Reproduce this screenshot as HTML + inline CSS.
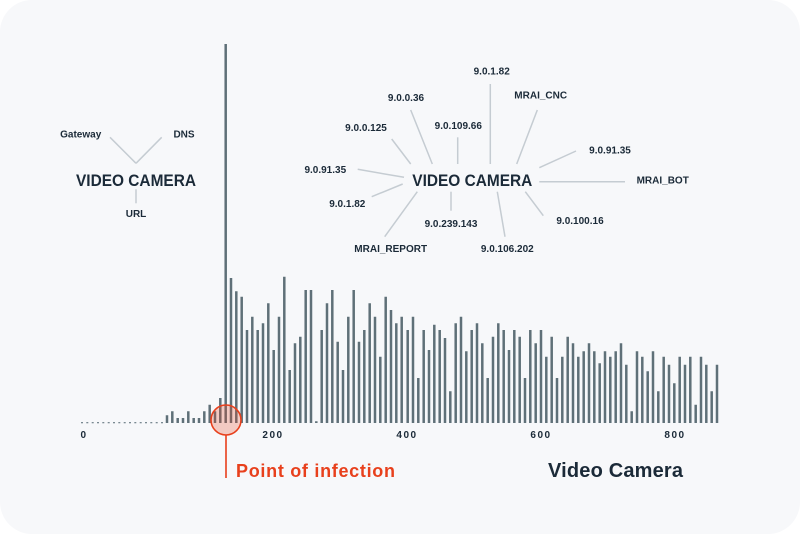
<!DOCTYPE html>
<html><head><meta charset="utf-8"><style>
html,body{margin:0;padding:0;background:#fff;}
svg{display:block;font-family:"Liberation Sans",sans-serif;}
</style></head><body>
<svg width="800" height="534" viewBox="0 0 800 534" xmlns="http://www.w3.org/2000/svg">
<rect x="0" y="0" width="800" height="534" rx="32" fill="#f7f8fa"/>
<g fill="#7a8a92">
<rect x="81" y="422" width="2" height="1.3"/><rect x="86.3" y="422" width="2" height="1.3"/><rect x="91.7" y="422" width="2" height="1.3"/><rect x="97" y="422" width="2" height="1.3"/><rect x="102.3" y="422" width="2" height="1.3"/><rect x="107.7" y="422" width="2" height="1.3"/><rect x="113" y="422" width="2" height="1.3"/><rect x="118.3" y="422" width="2" height="1.3"/><rect x="123.7" y="422" width="2" height="1.3"/><rect x="129" y="422" width="2" height="1.3"/><rect x="134.3" y="422" width="2" height="1.3"/><rect x="139.7" y="422" width="2" height="1.3"/><rect x="145" y="422" width="2" height="1.3"/><rect x="150.3" y="422" width="2" height="1.3"/><rect x="155.7" y="422" width="2" height="1.3"/><rect x="161" y="422" width="2" height="1.3"/>
</g>
<path fill="none" stroke="#5f7078" stroke-width="2.5" d="
M167 415.3V423M172.3 411.3V423M177.7 418V423M183 418V423M188.3 411.3V423M193.7 418V423M199 418V423M204.3 411.3V423M209.7 404.7V423M215 411.3V423M220.3 398V423M225.7 44V423
M231 278V423M236.3 291.3V423M241.7 296.7V423M247 330V423M252.3 316.7V423M257.7 330V423M263 323.3V423M268.3 303.3V423M273.7 350V423M279 316.7V423M284.3 276.7V423M289.7 370V423M295 343.3V423M300.3 336.7V423M305.7 290V423M311 290V423M316.3 421.3V423M321.7 330V423M327 303.3V423M332.3 290V423M337.7 341.7V423M343 370V423M348.3 316.7V423M353.7 290V423M359 341.7V423M364.3 330V423M369.7 303.3V423M375 316.7V423M380.3 356.7V423M385.7 296.7V423M391 310V423M396.3 323.3V423M401.7 316.7V423
M407.7 330V423M413 316.7V423M418.3 378V423M423.7 330V423M429 350V423M434.3 324.7V423M439.7 330V423M445 338V423M450.3 391.3V423M455.7 323.3V423M461 316.7V423M466.3 351.3V423M471.7 330V423M477 323.3V423M482.3 343.3V423M487.7 378V423M493 336.7V423M498.3 323.3V423M503.7 330V423M509 350V423M514.3 330V423M519.7 336.7V423M525 378V423M530.3 330V423M535.7 343.3V423M541 330V423M546.3 356.7V423M551.7 336.7V423M557 378V423M562.3 356.7V423M567.7 336.7V423M573 343.3V423M578.3 356.7V423M583.7 351.3V423M589 343.3V423M594.3 351.3V423M599.7 363.3V423M605 351.3V423M610.3 356.7V423M615.7 351.3V423M621 343.3V423M626.3 364.7V423M631.7 411.3V423M637 351.3V423M642.3 356.7V423M647.7 371.3V423M653 351.3V423M658.3 391.3V423M663.7 356.7V423M669 364.7V423M674.3 383.3V423M679.7 356.7V423M685 364.7V423M690.3 356.7V423M695.7 404.7V423M701 356.7V423M706.3 364.7V423M711.7 391.3V423M717 364.7V423"/>
<circle cx="226" cy="420" r="15" fill="#e8401c" fill-opacity="0.25" stroke="#e8401c" stroke-width="1.6"/>
<line x1="226" y1="435" x2="226" y2="478" stroke="#e8401c" stroke-width="1.6"/>
<text x="236" y="477" font-size="18" font-weight="bold" fill="#e8401c" textLength="159">Point of infection</text>
<text x="548" y="477" font-size="20" font-weight="bold" fill="#1b2a38" textLength="135">Video Camera</text>
<g font-size="10" font-weight="bold" fill="#1b2a38" text-anchor="middle" letter-spacing="1.5">
<text x="84" y="438">0</text><text x="273" y="438">200</text><text x="407" y="438">400</text><text x="541" y="438">600</text><text x="675" y="438">800</text>
</g>
<g stroke="#c5ccd2" stroke-width="1.5">
<line x1="110" y1="137.3" x2="136" y2="163.3"/><line x1="161.7" y1="137.3" x2="136" y2="163.3"/><line x1="136" y1="189.3" x2="136" y2="203.3"/>
<line x1="490.3" y1="84" x2="490.3" y2="164"/>
<line x1="537.3" y1="110" x2="516.7" y2="164"/>
<line x1="410.7" y1="110" x2="432.3" y2="164"/>
<line x1="457.7" y1="137.3" x2="457.7" y2="164"/>
<line x1="391.7" y1="139" x2="410.7" y2="164"/>
<line x1="576" y1="151" x2="539.3" y2="167.7"/>
<line x1="357.7" y1="169.3" x2="404" y2="177.3"/>
<line x1="539.3" y1="181.7" x2="625" y2="181.7"/>
<line x1="371.7" y1="196.7" x2="402.7" y2="184"/>
<line x1="451" y1="191.7" x2="451" y2="210.7"/>
<line x1="525.3" y1="191.7" x2="543.3" y2="215.7"/>
<line x1="417.3" y1="191.7" x2="384.7" y2="236.7"/>
<line x1="497.3" y1="191.7" x2="505" y2="236.7"/>
</g>
<g font-size="10" font-weight="bold" fill="#1b2a38" text-anchor="middle">
<text x="80.7" y="137.5">Gateway</text><text x="184" y="137.5">DNS</text><text x="136" y="216.8">URL</text>
<text x="491.7" y="74.5">9.0.1.82</text>
<text x="540.7" y="98.5">MRAI_CNC</text>
<text x="406" y="101.2">9.0.0.36</text>
<text x="458.3" y="129.2">9.0.109.66</text>
<text x="366" y="130.8">9.0.0.125</text>
<text x="610" y="153.5">9.0.91.35</text>
<text x="325.3" y="172.8">9.0.91.35</text>
<text x="662.7" y="183.5">MRAI_BOT</text>
<text x="347.3" y="206.8">9.0.1.82</text>
<text x="451" y="226.8">9.0.239.143</text>
<text x="580" y="224.2">9.0.100.16</text>
<text x="390.7" y="251.8">MRAI_REPORT</text>
<text x="507.3" y="251.8">9.0.106.202</text>
</g>
<g font-size="17" font-weight="bold" fill="#1b2a38">
<text x="76" y="186" textLength="120" lengthAdjust="spacingAndGlyphs">VIDEO CAMERA</text>
<text x="412.3" y="186" textLength="120" lengthAdjust="spacingAndGlyphs">VIDEO CAMERA</text>
</g>
</svg>
</body></html>
